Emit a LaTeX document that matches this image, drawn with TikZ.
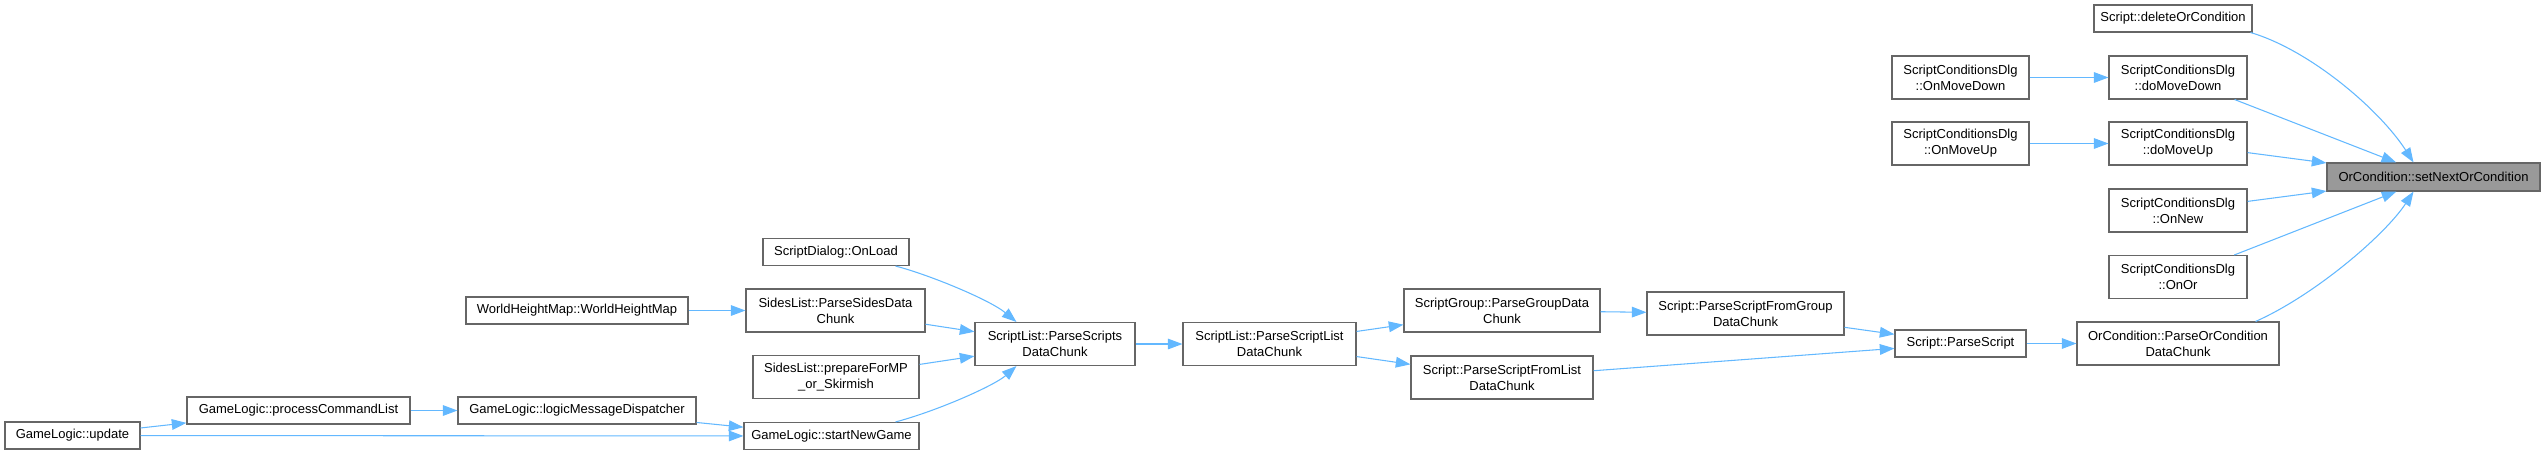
\documentclass[tikz,border=0pt]{standalone}
\usepackage{fontspec}
\setmainfont{Liberation Sans}
\usetikzlibrary{arrows.meta,calc}
\definecolor{edgeblue}{HTML}{63B8FF}
\definecolor{nodeborder}{HTML}{666666}
\definecolor{focusfill}{HTML}{999999}
\begin{document}
\begin{tikzpicture}[x=0.75pt,y=-0.75pt,
  fn/.style={draw=nodeborder,fill=white,line width=0.8pt,inner sep=0pt,align=center,
    font=\fontsize{9.75}{12}\selectfont},
  box/.style 2 args={minimum width=#1*0.75pt,minimum height=#2*0.75pt},
  callarrow/.style={draw=edgeblue,line width=0.8pt,-{Triangle[length=11pt,width=8pt]}}]
\useasboundingbox (0,0) rectangle (2545,455);

\node[fn,box={135}{27}] (update) at (72.5,435.5) {GameLogic::update};
\node[fn,box={223}{27}] (pcl) at (298.5,410.5) {GameLogic::processCommandList};
\node[fn,box={238}{27}] (lmd) at (577,410.5) {GameLogic::logicMessageDispatcher};
\node[fn,box={175}{27}] (sng) at (831.5,436) {GameLogic::startNewGame};
\node[fn,box={222}{27}] (whm) at (577,310.5) {WorldHeightMap::WorldHeightMap};
\node[fn,box={146}{27}] (onload) at (836,252) {ScriptDialog::OnLoad};
\node[fn,box={179}{43}] (psides) at (835.5,310.5) {SidesList::ParseSidesData\\Chunk};
\node[fn,box={166}{43}] (prep) at (836,377) {SidesList::prepareForMP\\\_or\_Skirmish};
\node[fn,box={160}{43}] (pscripts) at (1055,344) {ScriptList::ParseScripts\\DataChunk};
\node[fn,box={173}{43}] (plist) at (1269.5,344) {ScriptList::ParseScriptList\\DataChunk};
\node[fn,box={196}{43}] (pgroup) at (1502,310.5) {ScriptGroup::ParseGroupData\\Chunk};
\node[fn,box={182}{43}] (pfromlist) at (1502,377.5) {Script::ParseScriptFromList\\DataChunk};
\node[fn,box={197}{43}] (pfromgroup) at (1745.5,313.5) {Script::ParseScriptFromGroup\\DataChunk};
\node[fn,box={131}{27}] (pscript) at (1960.5,343.5) {Script::ParseScript};
\node[fn,box={202}{43}] (porcond) at (2178,343.5) {OrCondition::ParseOrCondition\\DataChunk};
\node[fn,box={158}{27}] (delor) at (2173,18.5) {Script::deleteOrCondition};
\node[fn,box={137}{43}] (onmovedown) at (1960.5,77.5) {ScriptConditionsDlg\\::OnMoveDown};
\node[fn,box={138}{43}] (domovedown) at (2178,77.5) {ScriptConditionsDlg\\::doMoveDown};
\node[fn,box={137}{43}] (onmoveup) at (1960.5,143.5) {ScriptConditionsDlg\\::OnMoveUp};
\node[fn,box={138}{43}] (domoveup) at (2178,143.5) {ScriptConditionsDlg\\::doMoveUp};
\node[fn,box={138}{43}] (onnew) at (2178,210.5) {ScriptConditionsDlg\\::OnNew};
\node[fn,box={138}{43}] (onor) at (2178,277) {ScriptConditionsDlg\\::OnOr};
\node[fn,box={213}{28},fill=focusfill] (setnext) at (2433.5,177) {OrCondition::setNextOrCondition};

\draw[callarrow] (update) -- (pcl);
\draw[callarrow] (update) -- (sng);
\draw[callarrow] (pcl) -- (lmd);
\draw[callarrow] (lmd) -- (sng);
\draw[callarrow] ($(sng.north east)+(-24,0)$) .. controls (940,410) and (995,385) .. ($(pscripts.south west)+(42,0)$);
\draw[callarrow] ($(onload.south east)+(-14,0)$) .. controls (930,275) and (990,300) .. ($(pscripts.north west)+(42,0)$);
\draw[callarrow] (whm) -- (psides);
\draw[callarrow] (psides) -- (pscripts);
\draw[callarrow] (prep) -- (pscripts);
\draw[callarrow] (pscripts) -- (plist);
\draw[callarrow] (plist) -- (pgroup);
\draw[callarrow] (plist) -- (pfromlist);
\draw[callarrow] (pgroup) -- (pfromgroup);
\draw[callarrow] (pfromgroup) -- (pscript);
\draw[callarrow] (pfromlist) -- (pscript);
\draw[callarrow] (pscript) -- (porcond);
\draw[callarrow] (onmovedown) -- (domovedown);
\draw[callarrow] (onmoveup) -- (domoveup);
\draw[callarrow] (domovedown) -- (setnext);
\draw[callarrow] (domoveup) -- (setnext);
\draw[callarrow] (onnew) -- (setnext);
\draw[callarrow] (onor) -- (setnext);
\draw[callarrow] ($(delor.south east)+(-2,0)$) .. controls (2310,50) and (2380,110) .. ($(setnext.north)+(-20,0)$);
\draw[callarrow] ($(porcond.north east)+(-24,0)$) .. controls (2315,295) and (2385,235) .. ($(setnext.south)+(-20,0)$);
\end{tikzpicture}
\end{document}
